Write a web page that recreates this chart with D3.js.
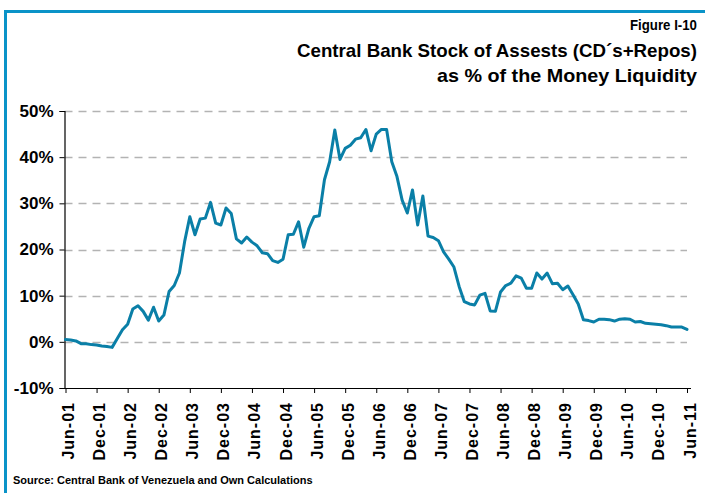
<!DOCTYPE html>
<html>
<head>
<meta charset="utf-8">
<script src="https://cdn.jsdelivr.net/npm/d3@7"></script>
<style>
  html, body { margin: 0; padding: 0; background: #fff; }
  svg { display: block; font-family: "Liberation Sans", Arial, sans-serif; }
</style>
</head>
<body>
<svg id="chart" width="705" height="493"></svg>
<script>
// ---- data ----
const tickLabels = ["Jun-01","Dec-01","Jun-02","Dec-02","Jun-03","Dec-03","Jun-04","Dec-04",
  "Jun-05","Dec-05","Jun-06","Dec-06","Jun-07","Dec-07","Jun-08","Dec-08","Jun-09","Dec-09",
  "Jun-10","Dec-10","Jun-11"];
const yTicks = [-10, 0, 10, 20, 30, 40, 50];
// monthly values, Jun-01 .. Jun-11 (%)
const values = [
  0.5, 0.4, 0.2, -0.4, -0.4, -0.6, -0.7, -0.9, -1.0, -1.2,
  0.7, 2.6, 3.8, 7.1, 7.8, 6.6, 4.7, 7.5, 4.5, 5.8,
  10.9, 12.2, 14.9, 21.7, 27.1, 23.2, 26.6, 26.8, 30.2, 25.7,
  25.3, 29.0, 27.8, 22.3, 21.4, 22.7, 21.6, 20.8, 19.3, 19.1,
  17.6, 17.2, 17.9, 23.2, 23.3, 26.0, 20.5, 24.6, 27.1, 27.3,
  35.1, 39.0, 45.9, 39.5, 41.9, 42.6, 43.9, 44.2, 46.0, 41.4,
  45.0, 46.0, 46.0, 39.0, 35.8, 30.7, 27.9, 32.9, 25.3, 31.6,
  22.9, 22.6, 21.9, 19.5, 17.9, 16.2, 12.0, 8.7, 8.2, 8.0,
  10.1, 10.5, 6.7, 6.6, 10.8, 12.2, 12.7, 14.3, 13.8, 11.6,
  11.6, 14.9, 13.6, 14.9, 12.6, 12.7, 11.3, 12.1, 10.2, 8.2,
  4.8, 4.6, 4.3, 4.9, 4.9, 4.8, 4.5, 4.9, 5.0, 4.9,
  4.3, 4.4, 4.0, 3.9, 3.8, 3.7, 3.5, 3.2, 3.2, 3.2,
  2.7
];
const titleLines = ["Figure I-10", "Central Bank Stock of Assests (CD\u00B4s+Repos)", "as % of the Money Liquidity"];
const sourceText = "Source: Central Bank of Venezuela and Own Calculations";

// ---- drawing ----
const svg = d3.select("#chart");
const frameColor = "#0a93c8";
const lineColor = "#0a7fa7";

svg.append("path")
  .attr("d", "M5.5,493 V11.5 H705")
  .attr("fill", "none")
  .attr("stroke", frameColor)
  .attr("stroke-width", 3);

const x = d3.scaleLinear().domain([0, values.length - 1]).range([65.5, 687]);
const y = d3.scaleLinear().domain([-10, 50]).range([388, 111]);

// gridlines
svg.append("g").selectAll("line")
  .data(yTicks.filter(d => d !== -10))
  .join("line")
  .attr("x1", x(0) - 1).attr("x2", x(values.length - 1))
  .attr("y1", d => Math.round(y(d)) + 0.5).attr("y2", d => Math.round(y(d)) + 0.5)
  .attr("stroke", "#b3b3b3")
  .attr("stroke-width", 1.5)
  .attr("stroke-dasharray", "8,6");

// y axis
const yAxis = svg.append("g")
  .attr("transform", `translate(${x(0) - 1},0)`)
  .call(d3.axisLeft(y).tickValues(yTicks).tickFormat(d => d + "%").tickSize(5).tickPadding(6));
yAxis.select(".domain").attr("stroke", "#000").attr("stroke-width", 1.2);
yAxis.selectAll(".tick line").attr("stroke", "#000");
yAxis.selectAll("text")
  .attr("fill", "#000")
  .style("font-size", "17px")
  .style("font-weight", "bold");

// x axis
const xTickVals = tickLabels.map((d, i) => i * 6);
const xAxis = svg.append("g")
  .attr("transform", `translate(0,${y(-10)})`)
  .call(d3.axisBottom(x).tickValues(xTickVals).tickFormat((d, i) => tickLabels[i]).tickSize(5).tickSizeOuter(0));
xAxis.select(".domain").attr("stroke", "#000").attr("stroke-width", 1.2)
  .attr("d", `M${x(0) - 1},0.5H${x(values.length - 1) + 4}`);
xAxis.selectAll(".tick line").attr("stroke", "#000");
xAxis.selectAll("text")
  .attr("transform", "rotate(-90)")
  .attr("x", -14)
  .attr("y", 0)
  .attr("dy", "0.5em")
  .style("text-anchor", "end")
  .style("letter-spacing", "1px")
  .style("font-size", "16px")
  .style("font-weight", "bold")
  .attr("fill", "#000");

// series line
svg.append("path")
  .datum(values)
  .attr("fill", "none")
  .attr("stroke", lineColor)
  .attr("stroke-width", 3)
  .attr("stroke-linejoin", "round")
  .attr("stroke-linecap", "round")
  .attr("d", d3.line().x((d, i) => x(i)).y(d => y(d)));

// titles
const tSizes = [15, 19, 19];
const tY = [30, 57, 82];
const tLen = [67, 400, 260];
svg.append("g").selectAll("text")
  .data(titleLines)
  .join("text")
  .attr("x", 697)
  .attr("y", (d, i) => tY[i])
  .attr("text-anchor", "end")
  .attr("textLength", (d, i) => tLen[i])
  .attr("lengthAdjust", "spacingAndGlyphs")
  .style("font-size", (d, i) => tSizes[i] + "px")
  .style("font-weight", "bold")
  .attr("fill", "#000")
  .text(d => d);

// source
svg.append("text")
  .attr("x", 13)
  .attr("y", 484)
  .style("font-size", "11px")
  .style("font-weight", "bold")
  .attr("fill", "#000")
  .text(sourceText);
</script>
</body>
</html>
